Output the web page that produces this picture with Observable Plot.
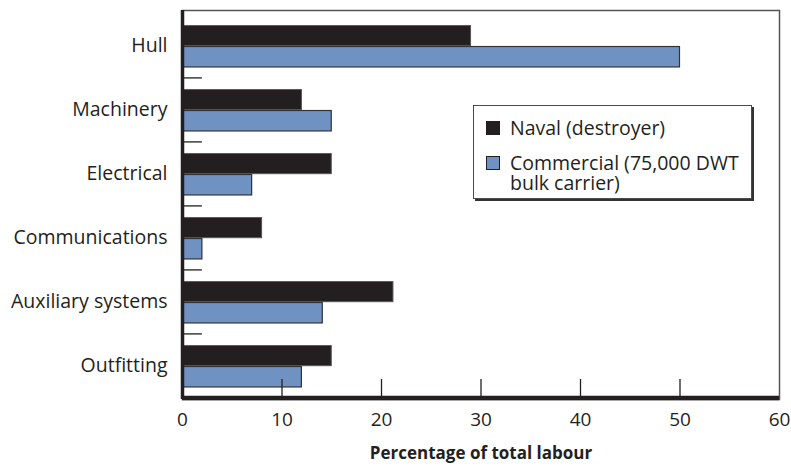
<!DOCTYPE html>
<html>
<head>
<meta charset="utf-8">
<script src="https://cdn.jsdelivr.net/npm/d3@7"></script>
<script src="https://cdn.jsdelivr.net/npm/@observablehq/plot@0.6"></script>
<style>
  html, body { margin: 0; padding: 0; background: #fff; }
  #wrap { position: relative; width: 791px; height: 466px; font-family: "Open Sans", "Noto Sans", sans-serif; }
  #legend {
    position: absolute; left: 473px; top: 105px; width: 279px; height: 94px;
    box-sizing: border-box; border: 1.5px solid #4a4a4a; background: #fff;
    box-shadow: 2px 2px 0 #333; font-size: 19.5px; color: #231f20;
  }
  .item { position: absolute; left: 12px; line-height: 20px; white-space: nowrap; }
  .sw { position: absolute; left: 0; top: 3px; width: 14px; height: 14px; box-sizing: border-box; border: 1px solid #231f20; }
  .txt { position: absolute; left: 24px; top: 0; }
</style>
</head>
<body>
<div id="wrap"><div id="chart"></div><div id="legend"></div></div>
<script>
const categories = ["Hull", "Machinery", "Electrical", "Communications", "Auxiliary systems", "Outfitting"];
const naval = [29, 12, 15, 8, 21.2, 15];
const commercial = [50, 15, 7, 2, 14.1, 12];
const xTicks = [0, 10, 20, 30, 40, 50, 60];
const seriesNames = ["Naval (destroyer)", "Commercial (75,000 DWT", "bulk carrier)"];
const colors = ["#231f20", "#6f92c2"];

const navalData = categories.map((c, i) => ({category: c, value: naval[i]}));
const commData = categories.map((c, i) => ({category: c, value: commercial[i]}));

const W = 791, H = 466, mT = 10, mB = 67, mL = 182, mR = 12;
const bw = (H - mT - mB) / categories.length;

const chart = Plot.plot({
  width: W, height: H,
  marginTop: mT, marginBottom: mB, marginLeft: mL, marginRight: mR,
  style: {fontFamily: "'Open Sans', 'Noto Sans', sans-serif", fontSize: "19px", color: "#231f20"},
  x: {domain: [0, 60], ticks: xTicks, label: null},
  y: {domain: categories, padding: 0, label: null},
  marks: [
    Plot.frame({stroke: "#555", strokeWidth: 1.5}),
    Plot.barX(navalData, {y: "category", x: "value", fill: colors[0], stroke: "#555", strokeWidth: 1,
      insetTop: bw * 0.194, insetBottom: bw * 0.483}),
    Plot.barX(commData, {y: "category", x: "value", fill: colors[1], stroke: "#333", strokeWidth: 1.2,
      insetTop: bw * 0.517, insetBottom: bw * 0.155}),
    Plot.ruleY(categories.slice(0, -1), {y: d => d, x1: 0, x2: 2, dy: bw / 2, stroke: "#231f20", strokeWidth: 1.3}),
    Plot.ruleX(xTicks.slice(1, -1), {x: d => d, insetTop: H - mT - mB - 20, stroke: "#231f20", strokeWidth: 1.3}),
    Plot.ruleX([0], {stroke: "#231f20", strokeWidth: 3.5}),
    Plot.ruleY(categories.slice(-1), {y: d => d, x1: 0, x2: 60, dy: bw / 2, stroke: "#231f20", strokeWidth: 4.5}),
    Plot.axisY({tickSize: 0, tickPadding: 15, fontSize: 19.5, label: null}),
    Plot.axisX({ticks: xTicks, tickSize: 0, tickPadding: 13, fontSize: 19, label: null}),
    Plot.text(["Percentage of total labour"], {frameAnchor: "bottom", dy: 59, fontWeight: "bold", fontSize: 17})
  ]
});
document.getElementById("chart").appendChild(chart);

const legend = document.getElementById("legend");
[[seriesNames[0], colors[0], 12], [seriesNames[1], colors[1], 47], [seriesNames[2], null, 67]].forEach(([t, c, top]) => {
  const d = document.createElement("div");
  d.className = "item";
  d.style.top = top + "px";
  d.innerHTML = (c ? `<span class="sw" style="background:${c}"></span>` : "") + `<span class="txt">${t}</span>`;
  legend.appendChild(d);
});
</script>
</body>
</html>
